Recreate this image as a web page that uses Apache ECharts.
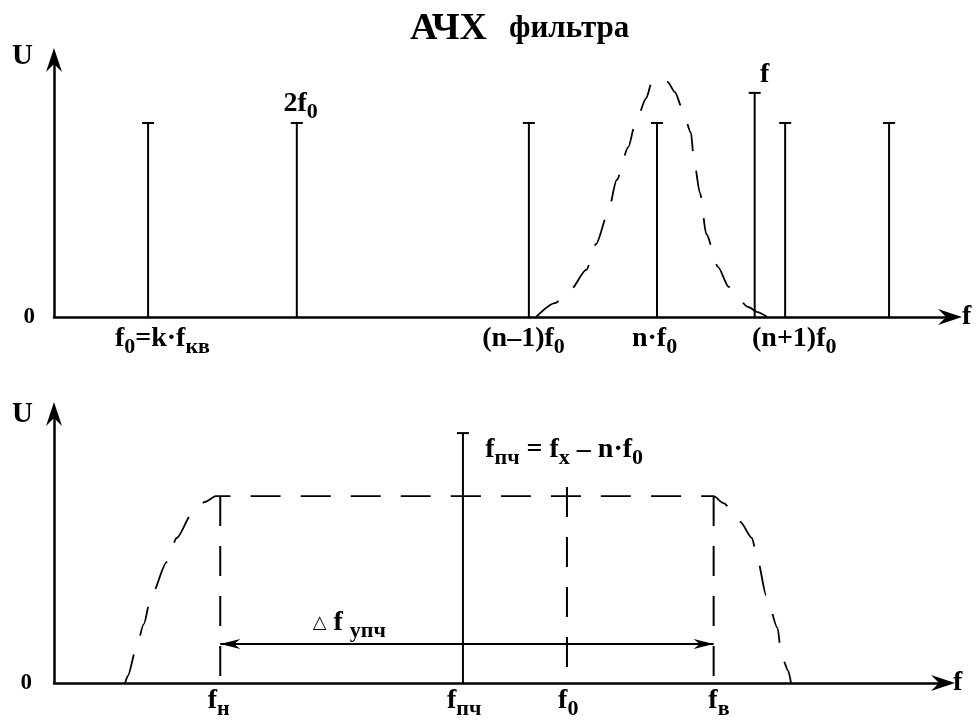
<!DOCTYPE html>
<html><head><meta charset="utf-8">
<script src="https://cdn.jsdelivr.net/npm/echarts@6/dist/echarts.min.js"></script>
<style>html,body{margin:0;padding:0;background:#fff}#c{width:978px;height:722px}</style>
</head><body><div id="c"></div>
<script>
// ===== Top chart: spectrum of the heterodyne harmonics =====
const topLineX = [10.5, 27.1, 53.0, 67.3, 78.2, 81.6, 93.2];
const topLineH = [75.5, 75.5, 75.5, 75.5, 87.2, 75.5, 75.5];
// filter response (dashed bell)
const topCurveX = [53.8, 55.9, 57.7, 59.4, 60.5, 61.8, 62.8, 64.1, 64.8, 66.1, 66.7, 67.6, 68.5, 69.3, 70.1, 71.1, 71.4, 72.1, 72.8, 74.1, 75.3, 77.5, 78.5, 79.6];
const topCurveY = [0, 5.4, 10.9, 18.3, 28.4, 40.1, 53.3, 66.1, 74.3, 85.2, 91.1, 93.0, 91.4, 87.5, 81.3, 71.6, 61.5, 48.2, 32.3, 19.5, 11.7, 3.9, 1.9, 0];
const topLabelText = ['{m|f}{s|0}{m|=k·f}{s|кв}', '{m|2f}{s|0}', '{m|(n–1)f}{s|0}', '{m|n·f}{s|0}', '{m|f}', '{m|(n+1)f}{s|0}'];
const topLabelX = [6.8, 25.6, 47.8, 64.5, 78.8, 77.9];
const topLabelY = [-8.6, 83.0, -8.6, -8.6, 94.2, -8.6];

// ===== Bottom chart: IF amplifier response =====
const botLineX = [18.7, 46.0, 57.7, 74.2];          // f_н, f_пч, f_0, f_в
const botLineTop = [69.5, 92.9, 72.9, 69.5];
const botLineDashed = [true, false, true, true];
const botCurveX = [8.0, 8.3, 9.2, 10.1, 10.9, 12.7, 13.8, 15.5, 17.0, 18.2, 74.2, 75.3, 77.2, 78.5, 79.2, 80.1, 81.4, 81.8, 82.6, 82.9];
const botCurveY = [0, 2.6, 12.3, 21.9, 32.0, 45.0, 53.9, 62.8, 67.3, 69.5, 69.5, 66.9, 59.9, 53.9, 45.0, 32.7, 20.4, 10.4, 4.5, 0];
const bandArrow = [18.7, 74.2, 14.5];               // from, to, level
const botLabelText = ['{m|f}{s|н}', '{m|f}{s|пч}', '{m|f}{s|0}', '{m|f}{s|в}', '{m|f}{s|пч}{m| = f}{s|x}{m| – n·f}{s|0}', '{t|△}{m| f }{s|упч}'];
const botLabelX = [17.3, 44.2, 56.7, 73.6, 48.5, 29.1];
const botLabelY = [-6.7, -6.7, -6.7, -6.7, 86.6, 22.3];

const FONT = 'Liberation Serif';
const rich = {
  m: {fontFamily: FONT, fontWeight: 'bold', fontSize: 28, lineHeight: 30, fill: '#000'},
  s: {fontFamily: FONT, fontWeight: 'bold', fontSize: 22, lineHeight: 22, padding: [17, 0, 0, 0], fill: '#000'},
  t: {fontFamily: 'DejaVu Sans', fontSize: 18, lineHeight: 22, fill: '#000'}
};
const arrowPath = 'path://M8,0 L16,24 L8,16 L0,24 Z';

function axisPair(gi, endGap, fGap, fPad, zeroPad, zeroMargin) {
  return {
    x: {
      gridIndex: gi, type: 'value', min: 0, max: 100,
      axisLine: {show: true, symbol: ['none', arrowPath], symbolSize: [16, 24], lineStyle: {color: '#000', width: 2.5}},
      axisTick: {show: false}, axisLabel: {show: false}, splitLine: {show: false},
      name: 'f', nameLocation: 'end', nameGap: fGap,
      nameTextStyle: {fontFamily: FONT, fontWeight: 'bold', fontSize: 28, color: '#000', verticalAlign: 'middle', padding: [0, 0, fPad, 0]}
    },
    y: {
      gridIndex: gi, type: 'value', min: 0, max: 100, interval: 100,
      axisLine: {show: true, symbol: ['none', arrowPath], symbolSize: [16, 24], lineStyle: {color: '#000', width: 2.5}},
      axisTick: {show: false}, splitLine: {show: false},
      axisLabel: {show: true, formatter: v => (v === 0 ? '0' : ''), margin: zeroMargin, fontFamily: FONT, fontWeight: 'bold', fontSize: 23, color: '#000', verticalAlign: 'middle', padding: [zeroPad, 0, 0, 0]},
      name: 'U', nameLocation: 'end', nameGap: endGap,
      nameTextStyle: {fontFamily: FONT, fontWeight: 'bold', fontSize: 29, color: '#000', align: 'right', verticalAlign: 'middle', padding: [0, 21, 0, 0]}
    }
  };
}
const a0 = axisPair(0, 3, 12, 40, 10, 19);
const a1 = axisPair(1, -1, 10, 38, 8, 22);

function stemSeries(gi, xs, tops, dashed) {
  return {
    type: 'custom', xAxisIndex: gi, yAxisIndex: gi, silent: true,
    data: xs.map((x, i) => [x, tops[i], i]),
    renderItem: (params, api) => {
      const i = params.dataIndex;
      const b = api.coord([api.value(0), 0]);
      const t = api.coord([api.value(0), api.value(1)]);
      const d = dashed && dashed[i];
      const kids = [{type: 'line', shape: {x1: t[0], y1: t[1], x2: b[0], y2: b[1]},
        style: {stroke: '#000', lineWidth: 2, lineDash: d ? [30, 20] : null}}];
      if (!d) kids.push({type: 'line', shape: {x1: t[0] - 6, y1: t[1], x2: t[0] + 6, y2: t[1]}, style: {stroke: '#000', lineWidth: 2}});
      return {type: 'group', children: kids};
    }
  };
}
function textSeries(gi, xs, ys, texts) {
  return {
    type: 'custom', xAxisIndex: gi, yAxisIndex: gi, silent: true,
    data: xs.map((x, i) => [x, ys[i], i]),
    renderItem: (params, api) => {
      const p = api.coord([api.value(0), api.value(1)]);
      return {type: 'text', x: p[0], y: p[1],
        style: {text: texts[params.dataIndex], rich: rich, align: 'left', verticalAlign: 'middle', fill: '#000'}};
    }
  };
}
function curveSeries(gi, xs, ys, dash) {
  return {
    type: 'line', xAxisIndex: gi, yAxisIndex: gi, silent: true, symbol: 'none', smooth: 0.25, smoothMonotone: 'x',
    data: xs.map((x, i) => [x, ys[i]]),
    lineStyle: {color: '#000', width: 1.8, type: dash}
  };
}

const option = {
  animation: false,
  backgroundColor: '#fff',
  title: {
    text: '{a|АЧХ}{b|фильтра}', left: 405, top: 5,
    textStyle: {rich: {
      a: {fontFamily: FONT, fontWeight: 'bold', fontSize: 38, color: '#000'},
      b: {fontFamily: FONT, fontWeight: 'bold', fontSize: 31, color: '#000', padding: [0, 0, 0, 22]}
    }}
  },
  grid: [
    {left: 54, top: 60, width: 896, height: 257},
    {left: 54, top: 414, width: 889, height: 269}
  ],
  xAxis: [a0.x, a1.x],
  yAxis: [a0.y, a1.y],
  series: [
    stemSeries(0, topLineX, topLineH, null),
    curveSeries(0, topCurveX, topCurveY, [28, 20]),
    textSeries(0, topLabelX, topLabelY, topLabelText),
    stemSeries(1, botLineX, botLineTop, botLineDashed),
    curveSeries(1, botCurveX, botCurveY, [30, 20]),
    {
      type: 'custom', xAxisIndex: 1, yAxisIndex: 1, silent: true,
      data: [[bandArrow[0], bandArrow[1], bandArrow[2]]],
      renderItem: (params, api) => {
        const p1 = api.coord([api.value(0), api.value(2)]);
        const p2 = api.coord([api.value(1), api.value(2)]);
        const head = (p, dir) => ({type: 'polygon', shape: {points: [
          [p[0], p[1]], [p[0] + dir * 20, p[1] - 5], [p[0] + dir * 14, p[1]], [p[0] + dir * 20, p[1] + 5]]},
          style: {fill: '#000'}});
        return {type: 'group', children: [
          {type: 'line', shape: {x1: p1[0], y1: p1[1], x2: p2[0], y2: p2[1]}, style: {stroke: '#000', lineWidth: 2}},
          head(p1, 1), head(p2, -1)
        ]};
      }
    },
    textSeries(1, botLabelX, botLabelY, botLabelText)
  ]
};
echarts.init(document.getElementById('c')).setOption(option);
</script>
</body></html>
